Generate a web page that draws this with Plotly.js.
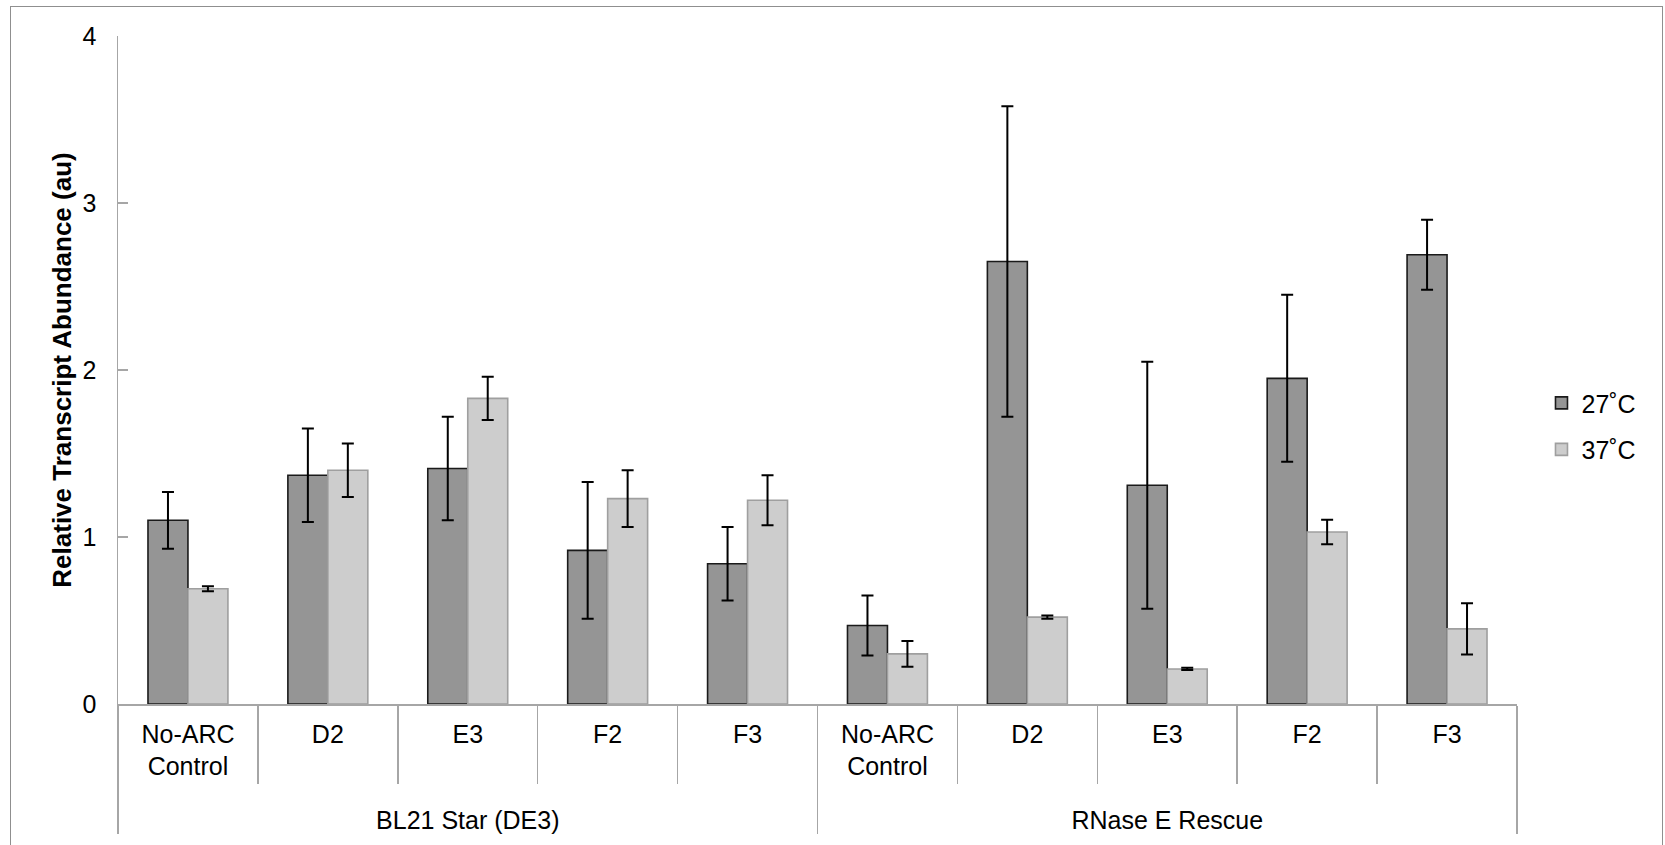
<!DOCTYPE html>
<html>
<head>
<meta charset="utf-8">
<script src="https://cdn.plot.ly/plotly-3.0.1.min.js"></script>
<style>
  html, body { margin: 0; padding: 0; background: #ffffff; }
  #wrap { position: relative; width: 1665px; height: 845px; overflow: hidden; }
  #chart { width: 1665px; height: 845px; }
  #frame { position: absolute; left: 10px; top: 6px; width: 1653px; height: 900px;
           border: 1.5px solid #8f8f8f; pointer-events: none; box-sizing: border-box; }
</style>
</head>
<body>
<div id="wrap">
  <div id="chart"></div>
  <div id="frame"></div>
</div>
<script>
// ---- data ----
const strains = ["BL21 Star (DE3)", "RNase E Rescue"];
const constructs = ["No-ARC<br>Control", "D2", "E3", "F2", "F3"];
const seriesNames = ["27˚C", "37˚C"];

const bl21_27 = [1.10, 1.37, 1.41, 0.92, 0.84];
const bl21_27_err = [0.17, 0.28, 0.31, 0.41, 0.22];
const bl21_37 = [0.69, 1.40, 1.83, 1.23, 1.22];
const bl21_37_err = [0.015, 0.16, 0.13, 0.17, 0.15];

const rnase_27 = [0.47, 2.65, 1.31, 1.95, 2.69];
const rnase_27_err = [0.18, 0.93, 0.74, 0.50, 0.21];
const rnase_37 = [0.30, 0.52, 0.21, 1.03, 0.45];
const rnase_37_err = [0.077, 0.01, 0.007, 0.073, 0.153];

const yTicks = [0, 1, 2, 3, 4];

// ---- build multicategory x ----
// an invisible third line under the two-line labels pushes the outer (group) labels lower
const SPACER = "<br><span style='font-size:12px;color:rgba(0,0,0,0)'>.</span>";
const outer = [], inner = [];
strains.forEach(s => constructs.forEach(c => {
  outer.push(s);
  inner.push(c.indexOf("<br>") >= 0 ? c + SPACER : c);
}));

const FONT = "Liberation Sans, Arial, sans-serif";
const AXIS = "#a6a6a6";

const traces = [
  {
    type: "bar", name: seriesNames[0], legendgroup: "a",
    x: [outer, inner], y: bl21_27.concat(rnase_27),
    marker: { color: "#959595", line: { color: "#1a1a1a", width: 1.6 } },
    error_y: { type: "data", array: bl21_27_err.concat(rnase_27_err), visible: true,
               color: "#000000", thickness: 2, width: 6 },
    hoverinfo: "y"
  },
  {
    type: "bar", name: seriesNames[1], legendgroup: "b",
    x: [outer, inner], y: bl21_37.concat(rnase_37),
    marker: { color: "#cdcdcd", line: { color: "#9f9f9f", width: 1.6 } },
    error_y: { type: "data", array: bl21_37_err.concat(rnase_37_err), visible: true,
               color: "#000000", thickness: 2, width: 6 },
    hoverinfo: "y"
  }
];

const layout = {
  width: 1665, height: 845,
  paper_bgcolor: "#ffffff", plot_bgcolor: "#ffffff",
  margin: { l: 118, r: 148, t: 36, b: 141, pad: 0 },
  font: { family: FONT, size: 25, color: "#000000" },
  barmode: "group",
  bargap: 0.4286,
  bargroupgap: 0,
  showlegend: true,
  legend: {
    x: 1.0175, xanchor: "left", y: 0.416, yanchor: "middle",
    font: { family: FONT, size: 25, color: "#000000" },
    traceorder: "grouped", tracegroupgap: 11,
    itemwidth: 30, bgcolor: "rgba(0,0,0,0)"
  },
  xaxis: {
    type: "multicategory",
    showline: true, linecolor: AXIS, linewidth: 1.5,
    showgrid: false, zeroline: false,
    ticks: "outside", tickson: "boundaries", ticklen: 78, tickwidth: 1.5, tickcolor: AXIS,
    showdividers: true, dividercolor: AXIS, dividerwidth: 1.5,
    tickfont: { family: FONT, size: 25, color: "#000000" },
    ticklabelstandoff: 7
  },
  yaxis: {
    range: [0, 4], tickvals: yTicks, ticktext: yTicks.map(String),
    showline: true, linecolor: AXIS, linewidth: 1.5,
    showgrid: false, zeroline: false,
    ticks: "inside", ticklen: 10, tickwidth: 1.5, tickcolor: AXIS,
    tickfont: { family: FONT, size: 25, color: "#000000" },
    ticklabelstandoff: 15,
    title: {
      text: "<b>Relative Transcript Abundance (au)</b>",
      font: { family: FONT, size: 26, color: "#000000" },
      standoff: 3
    }
  }
};

Plotly.newPlot("chart", traces, layout, { displayModeBar: false, staticPlot: true });
</script>
</body>
</html>
